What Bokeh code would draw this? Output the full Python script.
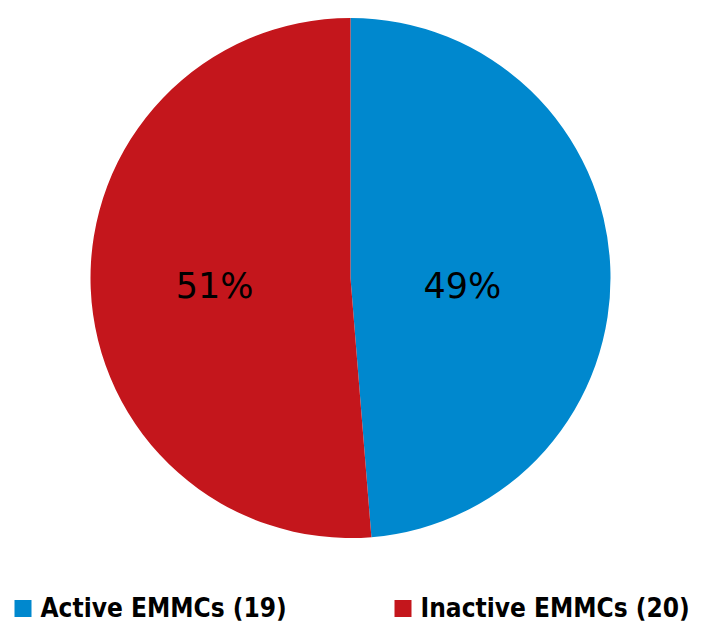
import math
from bokeh.plotting import figure
from bokeh.models import Range1d, ColumnDataSource
from bokeh.core.properties import value
from bokeh.embed import file_html
from bokeh.resources import INLINE

categories = ["Active EMMCs", "Inactive EMMCs"]
counts = [19, 20]
colors = ["#0088CE", "#C4161C"]

total = sum(counts)
starts, ends, pcts, legend_labels = [], [], [], []
ang = math.pi / 2
for c, n in zip(categories, counts):
    span = 2 * math.pi * n / total
    starts.append(ang)
    ends.append(ang - span)
    ang -= span
    pcts.append(f"{round(100 * n / total)}%")
    legend_labels.append(f"{c} ({n})")

W, H = 690, 621
TOP = 637
p = figure(width=W, height=H, output_backend="svg", toolbar_location=None,
           x_range=Range1d(0, W), y_range=Range1d(TOP - H, TOP),
           min_border=0, outline_line_color=None)
p.axis.visible = False
p.grid.visible = False
p.background_fill_color = "white"

cx, cy, R = 350, TOP - 277.5, 260
src = ColumnDataSource(dict(start=starts, end=ends, color=colors))
p.wedge(x=cx, y=cy, radius=R, start_angle="start", end_angle="end",
        direction="clock", fill_color="color", line_color=None, source=src)

# percentage labels at mid-angle
lr = 124
lx = [cx - 12 + lr * math.cos((s + e) / 2) for s, e in zip(starts, ends)]
ly = [TOP - 285 for _ in starts]
p.text(x=lx, y=ly, text=pcts, text_align="center", text_baseline="middle",
       text_font=value("DejaVu Sans"), text_font_size="35px", text_color="black")

# legend
leg_x = [14, 394]
sq = 17
leg_cy = TOP - 608
p.rect(x=[x + sq / 2 for x in leg_x], y=[leg_cy] * 2, width=sq, height=sq,
       fill_color=colors, line_color=None)
p.text(x=[x + 26 for x in leg_x], y=[leg_cy + 1] * 2, text=legend_labels,
       text_align="left", text_baseline="middle",
       text_font=value("DejaVu Sans Condensed"), text_font_style="bold",
       text_font_size="26px", text_color="black")

open("out.html", "w").write(file_html(p, INLINE))
